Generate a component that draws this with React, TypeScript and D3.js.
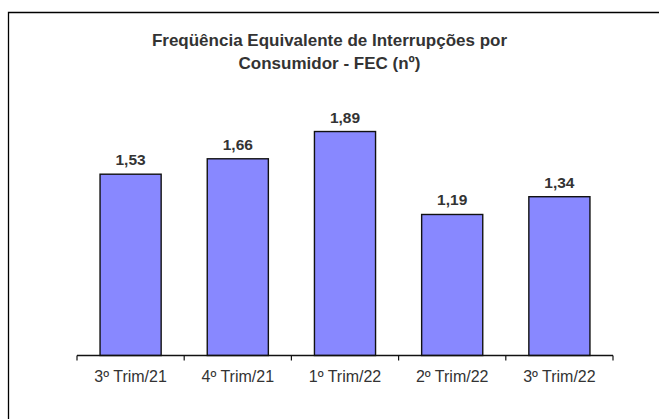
import React from "react";
import * as d3 from "d3";

const categories = ["3º Trim/21", "4º Trim/21", "1º Trim/22", "2º Trim/22", "3º Trim/22"];
const values = [1.53, 1.66, 1.89, 1.19, 1.34];
const valueLabels = ["1,53", "1,66", "1,89", "1,19", "1,34"];
const titleLines = ["Freqüência Equivalente de Interrupções por", "Consumidor - FEC (nº)"];

export default function App() {
  const W = 659, H = 419;
  const x0 = 77, x1 = 613;
  const yBase = 355.5;
  const x = d3.scaleBand<string>().domain(categories).range([x0, x1]).paddingInner(0.43).paddingOuter(0.215);
  const y = d3.scaleLinear().domain([0, 2]).range([yBase, yBase - 237]);
  const step = (x1 - x0) / categories.length;
  const font = "Arial, 'Liberation Sans', sans-serif";
  return (
    <svg width={W} height={H} style={{ position: "absolute", left: 0, top: 0 }}>
      <rect x={0} y={0} width={W} height={H} fill="#fff" />
      <path d={`M8.5,${H + 5} V12.5 H${W + 5}`} fill="none" stroke="#000" strokeWidth={1.3} />
      {titleLines.map((t, i) => (
        <text key={i} x={329.5} y={46 + i * 23} textAnchor="middle" fontFamily={font} fontWeight="bold" fontSize={17} fill="#333">
          {t}
        </text>
      ))}
      {categories.map((c, i) => (
        <g key={c}>
          <rect x={x(c)!} y={y(values[i])} width={x.bandwidth()} height={yBase - y(values[i])} fill="#8888FF" stroke="#111" strokeWidth={1.4} />
          <text x={x(c)! + x.bandwidth() / 2} y={y(values[i]) - 9} textAnchor="middle" fontFamily={font} fontWeight="bold" fontSize={15.5} fill="#333">
            {valueLabels[i]}
          </text>
          <text x={x0 + step * (i + 0.5)} y={381.5} textAnchor="middle" fontFamily={font} fontSize={16} fill="#333">
            {c}
          </text>
        </g>
      ))}
      <line x1={x0} x2={x1} y1={yBase} y2={yBase} stroke="#111" strokeWidth={1.4} />
      {d3.range(categories.length + 1).map((i) => (
        <line key={i} x1={x0 + step * i} x2={x0 + step * i} y1={yBase} y2={yBase + 5} stroke="#111" strokeWidth={1.2} />
      ))}
    </svg>
  );
}
